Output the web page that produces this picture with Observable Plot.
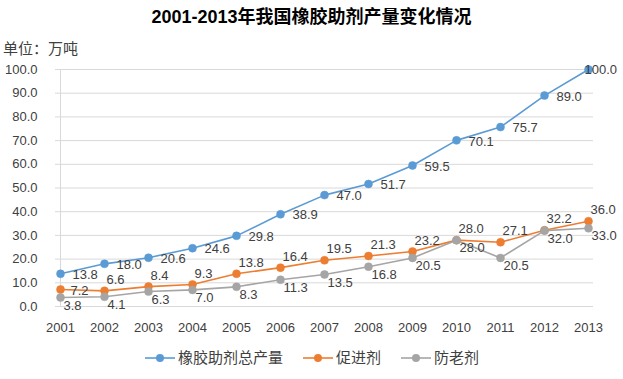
<!DOCTYPE html>
<html>
<head>
<meta charset="utf-8">
<script src="https://cdn.jsdelivr.net/npm/d3@7"></script>
<script src="https://cdn.jsdelivr.net/npm/@observablehq/plot@0.6"></script>
<style>
  html, body { margin: 0; padding: 0; background: #fff; }
  body { width: 623px; height: 379px; position: relative; overflow: hidden;
         font-family: "Liberation Sans", "Noto Sans CJK SC", sans-serif; color: #404040; }
  #title { position: absolute; top: 5px; left: 0; width: 623px; text-align: center;
           font-size: 18px; font-weight: bold; color: #000; line-height: 24px; }
  #unit { position: absolute; top: 39px; left: 3px; font-size: 15px; color: #404040; line-height: 20px; }
  #chart { position: absolute; top: 57px; left: 0; }
  #legend { position: absolute; top: 348px; left: 145px; display: flex; align-items: center;
            font-size: 15px; color: #404040; line-height: 20px; }
  .item { display: flex; align-items: center; margin-right: 20px; }
  .item svg { margin-right: 3px; }
</style>
</head>
<body>
<div id="title">2001-2013年我国橡胶助剂产量变化情况</div>
<div id="unit">单位：万吨</div>
<div id="chart"></div>
<div id="legend"></div>
<script>
const years = [2001, 2002, 2003, 2004, 2005, 2006, 2007, 2008, 2009, 2010, 2011, 2012, 2013];
const total = [13.8, 18.0, 20.6, 24.6, 29.8, 38.9, 47.0, 51.7, 59.5, 70.1, 75.7, 89.0, 100.0];
const accel = [7.2, 6.6, 8.4, 9.3, 13.8, 16.4, 19.5, 21.3, 23.2, 28.0, 27.1, 32.2, 36.0];
const anti  = [3.8, 4.1, 6.3, 7.0, 8.3, 11.3, 13.5, 16.8, 20.5, 28.0, 20.5, 32.0, 33.0];
const seriesNames = ["橡胶助剂总产量", "促进剂", "防老剂"];
const colors = ["#5B9BD5", "#ED7D31", "#A5A5A5"];
const yTicks = [0, 10, 20, 30, 40, 50, 60, 70, 80, 90, 100];

const rows = (vals, s) => years.map((y, i) => ({year: y, value: vals[i], series: s}));
const dTotal = rows(total, seriesNames[0]);
const dAccel = rows(accel, seriesNames[1]);
const dAnti = rows(anti, seriesNames[2]);
const firstYear = years[0];
const lastYear = years[years.length - 1];
const fmt = d3.format(".1f");

const lineMarks = (data, c) => [
  Plot.line(data, {x: "year", y: "value", stroke: c, strokeWidth: 1.6}),
  Plot.dot(data, {x: "year", y: "value", r: 4, fill: c, stroke: c, strokeWidth: 0.5})
];
const labelOpts = {x: "year", y: "value", text: d => fmt(d.value), fill: "#404040", fontSize: 13, textAnchor: "start"};

const chart = Plot.plot({
  width: 623,
  height: 285,
  marginTop: 12,
  marginBottom: 36,
  marginLeft: 55,
  marginRight: 30,
  style: {fontFamily: "'Liberation Sans', 'Noto Sans CJK SC', sans-serif", fontSize: "13px", color: "#404040", background: "transparent"},
  x: {type: "point", domain: years, padding: 0, tickSize: 0, tickPadding: 16, label: null, tickFormat: d => String(d)},
  y: {domain: [0, 100], ticks: yTicks, tickSize: 0, tickPadding: 18, label: null, tickFormat: fmt},
  marks: [
    Plot.ruleY(yTicks, {stroke: "#d9d9d9", strokeWidth: 1}),
    Plot.ruleX([firstYear], {stroke: "#d9d9d9", strokeWidth: 1}),
    ...lineMarks(dTotal, colors[0]),
    ...lineMarks(dAccel, colors[1]),
    ...lineMarks(dAnti, colors[2]),
    Plot.text(dTotal.filter(d => d.year !== lastYear), {...labelOpts, dx: 12, dy: 1}),
    Plot.text(dTotal.filter(d => d.year === lastYear), {...labelOpts, dx: -4, dy: 0}),
    Plot.text(dAccel.filter(d => d.year !== firstYear), {...labelOpts, dx: 2, dy: -11}),
    Plot.text(dAccel.filter(d => d.year === firstYear), {...labelOpts, dx: 10, dy: 1}),
    Plot.text(dAnti, {...labelOpts, dx: 3, dy: 8})
  ]
});
document.getElementById("chart").appendChild(chart);

const legend = document.getElementById("legend");
seriesNames.forEach((name, i) => {
  const item = document.createElement("div");
  item.className = "item";
  item.innerHTML = `<svg width="30" height="12"><line x1="0" y1="6" x2="30" y2="6" stroke="${colors[i]}" stroke-width="1.6"/><circle cx="15" cy="6" r="4" fill="${colors[i]}"/></svg><span>${name}</span>`;
  legend.appendChild(item);
});
</script>
</body>
</html>
